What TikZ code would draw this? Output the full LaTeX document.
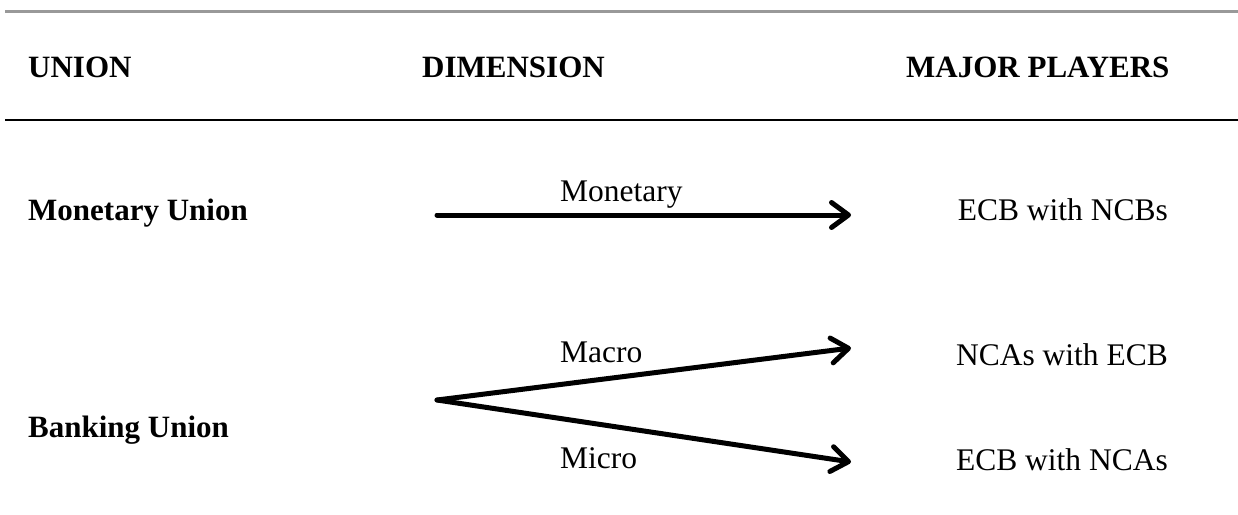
\documentclass[tikz,border=0pt]{standalone}
\usepackage{fontspec}
\setmainfont{Liberation Serif}
\usetikzlibrary{arrows.meta}

\tikzset{
  head/.style={font=\fontsize{31}{37}\selectfont\bfseries, anchor=base west, inner sep=0pt},
  union/.style={font=\fontsize{31}{37}\selectfont\bfseries, anchor=base west, inner sep=0pt},
  player/.style={font=\fontsize{31.5}{38}\selectfont, anchor=base east, inner sep=0pt},
  dimlabel/.style={font=\fontsize{31.5}{38}\selectfont, anchor=base west, inner sep=0pt},
  dimarrow/.style={line width=5pt, line cap=round,
    -{Straight Barb[length=17pt, width=25pt, line width=5pt, round]}},
}

\begin{document}
\begin{tikzpicture}[x=1pt, y=-1pt]

\useasboundingbox (0,0) rectangle (1238,514);

% ── RULES ───────────────────────────────────────────────────────────────
\draw[gray!80, line width=3pt] (5,11) -- (1238,11);
\draw[black, line width=2pt] (5,120) -- (1238,120);

% ── HEADINGS ────────────────────────────────────────────────────────────
\node[head] (hUnion)   at (28, 77)  {UNION};
\node[head] (hDim)     at (422, 77) {DIMENSION};
\node[head] (hPlayers) at (906, 77) {MAJOR PLAYERS};

% ── UNIONS ──────────────────────────────────────────────────────────────
\node[union] (monUnion) at (28, 220) {Monetary Union};
\node[union] (bankUnion) at (28, 437) {Banking Union};

% ── PLAYERS (right edge x=1168) ─────────────────────────────────────────
\node[player] (ecbNcb) at (1168, 220) {ECB with NCBs};
\node[player] (ncaEcb) at (1168, 365) {NCAs with ECB};
\node[player] (ecbNca) at (1168, 470) {ECB with NCAs};

% ── DIMENSION ARROWS ────────────────────────────────────────────────────
\coordinate (monStart) at (437, 215);
\coordinate (monEnd)   at (851, 215);
\coordinate (fork)     at (437, 400);
\coordinate (macroEnd) at (851, 348);
\coordinate (microEnd) at (851, 462);

\draw[dimarrow] (monStart) -- (monEnd);
\draw[dimarrow] (fork) -- (macroEnd);
\draw[dimarrow] (fork) -- (microEnd);

\node[dimlabel] (lMon)   at (560, 201) {Monetary};
\node[dimlabel] (lMacro) at (560, 362) {Macro};
\node[dimlabel] (lMicro) at (560, 468) {Micro};

\end{tikzpicture}
\end{document}
